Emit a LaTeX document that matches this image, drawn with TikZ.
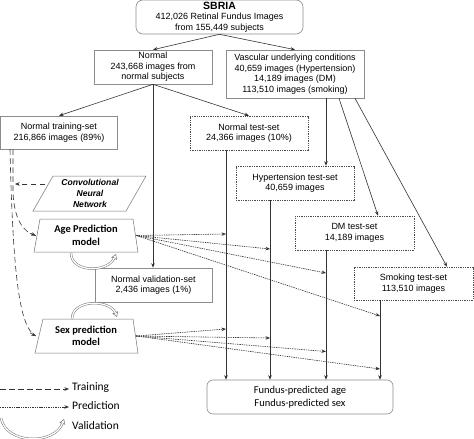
\documentclass[tikz,border=0pt]{standalone}
\usepackage{fontspec}
\setmainfont{Liberation Sans}
\newfontfamily\calfont{Carlito}
\usetikzlibrary{arrows.meta}
\begin{document}
\begin{tikzpicture}[x=1pt,y=-1pt,
  box/.style={draw=black!45, line width=0.6pt, align=center, inner sep=0pt,
    font=\fontsize{9}{10.6}\selectfont},
  tbox/.style={box, draw=black!70, dash pattern=on 1.3pt off 1pt},
  arr/.style={-{Stealth[length=4.5pt,width=3.5pt]}, draw=black!80, line width=0.6pt},
  train/.style={arr, dash pattern=on 5.5pt off 3.5pt},
  pred/.style={arr, dash pattern=on 1.4pt off 0.9pt},
  shp/.style={draw=black!55, line width=0.5pt},
  traptext/.style={align=center, inner sep=0pt, font=\calfont\bfseries\fontsize{10.5}{12.5}\selectfont},
  valarr/.style={draw=black!55, line width=0.5pt, -{Triangle[open,length=5pt,width=6pt]}},
  valline/.style={draw=black!55, line width=0.5pt, double=white, double distance=1.3pt, shorten >=4pt},
  lgd/.style={anchor=west, inner sep=0pt, font=\calfont\fontsize{11.5}{13}\selectfont}
]
\useasboundingbox (0,0) rectangle (474,439);

% boxes
\node[box, rounded corners=7pt, minimum width=167pt, minimum height=34pt] (sbria) at (219.5,17)
  {{\bfseries\fontsize{10.5}{11}\selectfont SBRIA}\\412,026 Retinal Fundus Images\\from 155,449 subjects};
\node[box, minimum width=118pt, minimum height=34pt] (normal) at (153,67)
  {Normal\\243,668 images from\\normal subjects};
\node[box, minimum width=138pt, minimum height=48pt] (vasc) at (295,74)
  {Vascular underlying conditions\\40,659 images (Hypertension)\\14,189 images (DM)\\113,510 images (smoking)};
\node[box, minimum width=117pt, minimum height=33pt] (train) at (59,132.5)
  {Normal training-set\\216,866 images (89\%)};
\node[tbox, minimum width=118pt, minimum height=34pt] (test) at (249,133)
  {Normal test-set\\24,366 images (10\%)};
\node[tbox, minimum width=118pt, minimum height=34pt] (hyp) at (295,183)
  {Hypertension test-set\\40,659 images};
\node[tbox, minimum width=119pt, minimum height=34pt] (dm) at (354.5,233)
  {DM test-set\\14,189 images};
\node[tbox, minimum width=119pt, minimum height=33pt] (smk) at (413.5,283.5)
  {Smoking test-set\\113,510 images};
\node[box, minimum width=117pt, minimum height=34pt] (val) at (153.5,285)
  {Normal validation-set\\2,436 images (1\%)};
\node[box, rounded corners=6pt, minimum width=186pt, minimum height=34pt,
  font=\calfont\fontsize{10.5}{12.5}\selectfont] (fund) at (300,397)
  {Fundus-predicted age\\Fundus-predicted sex};

% shapes (drawn directly) with text nodes
\draw[shp] (53,176) -- (146,176) -- (126,211) -- (33,211) -- cycle;
\node[align=center, inner sep=0pt, minimum width=80pt, minimum height=35pt,
  font=\bfseries\itshape\fontsize{8.6}{11}\selectfont] (cnn) at (90,193.5)
  {Convolutional\\Neural\\Network};
\draw[shp] (40,219) -- (133,219) -- (138,252) -- (34,252) -- cycle;
\node[traptext, minimum width=100pt, minimum height=33pt] (age) at (86,235.5)
  {Age Prediction\\model};
\draw[shp] (43,319) -- (133,319) -- (138,353) -- (35,353) -- cycle;
\node[traptext, minimum width=100pt, minimum height=34pt] (sex) at (86,336)
  {Sex prediction\\model};

% coordinates
\coordinate (xa) at (226,0);
\coordinate (xb) at (270,0);
\coordinate (xc) at (326,0);
\coordinate (xd) at (380,0);

% top arrows
\draw[arr] (sbria.south) -- (normal.north);
\draw[arr] (sbria.south) -- (vasc.north);
\draw[arr] (normal.south) -- (train.north);
\draw[arr] (normal.south) -- (test.north);
\draw[arr] (normal.south) -- (val.north -| normal.south);
\draw[arr] (vasc.south -| xc) -- (hyp.north -| xc);
\draw[arr] ([xshift=13pt]vasc.south -| xc) -- ([xshift=23.5pt]dm.north);
\draw[arr] ([xshift=29pt]vasc.south -| xc) -- ([xshift=33.5pt]smk.north);

% verticals to fundus
\draw[arr] (test.south -| xa) -- (fund.north -| xa);
\draw[arr] (hyp.south -| xb) -- (fund.north -| xb);
\draw[arr] (dm.south -| xc) -- (fund.north -| xc);
\draw[arr] (smk.south -| xd) -- (fund.north -| xd);

% training
\coordinate (cnnend) at (15,184);
\coordinate (cnnstart) at (45,184);
\draw[train] (cnnstart) -- (cnnend);
\draw[train, -] ([xshift=-46pt]train.south) -- (13,192) .. controls (14,220) and (24,233) .. (age.west);
\draw[train, -] ([xshift=-49pt]train.south) .. controls (13,280) and (20,328) .. (sex.west);
\draw[train,-{Stealth[length=4.5pt,width=3.5pt]}] (30,233.3) -- (age.west);
\draw[train,-{Stealth[length=4.5pt,width=3.5pt]}] (30,333) -- (sex.west);

% predictions
\coordinate (pa1) at (226,234);
\coordinate (pa2) at (270,249);
\coordinate (pa3) at (326,273);
\coordinate (pa4) at (380,316);
\coordinate (ps1) at (226,329);
\coordinate (ps2) at (270,338);
\coordinate (ps3) at (326,351.5);
\coordinate (ps4) at (380,369);
\foreach \p in {pa1,pa2,pa3,pa4} \draw[pred] (age.east) -- (\p);
\foreach \p in {ps1,ps2,ps3,ps4} \draw[pred] (sex.east) -- (\p);

% validation
\coordinate (va1) at (71,253);
\coordinate (va2) at (116,254);
\draw[valarr] (va1) .. controls (71,273) and (108,273) .. (va2);
\draw[valline] (va1) .. controls (71,273) and (108,273) .. (va2);
\coordinate (vs1) at (72,319);
\coordinate (vs2) at (117,317);
\draw[valarr] (vs1) .. controls (72,299) and (110,299) .. (vs2);
\draw[valline] (vs1) .. controls (72,299) and (110,299) .. (vs2);

% legend
\node[lgd] (ltrain) at (72,388) {Training};
\node[lgd] (lpred) at (72,406) {Prediction};
\node[lgd] (lval) at (72,425.5) {Validation};
\coordinate (l1) at (0,389);
\coordinate (l2) at (0,407);
\coordinate (l3) at (1,418);
\coordinate (l3e) at (64,419);
\draw[train] (l1) -- ([xshift=-3pt]ltrain.west |- l1);
\draw[pred] (l2) -- ([xshift=-3pt]lpred.west |- l2);
\draw[valarr] (l3) .. controls (6,445) and (55,445) .. (l3e);
\draw[valline] (l3) .. controls (6,445) and (55,445) .. (l3e);
\end{tikzpicture}
\end{document}
